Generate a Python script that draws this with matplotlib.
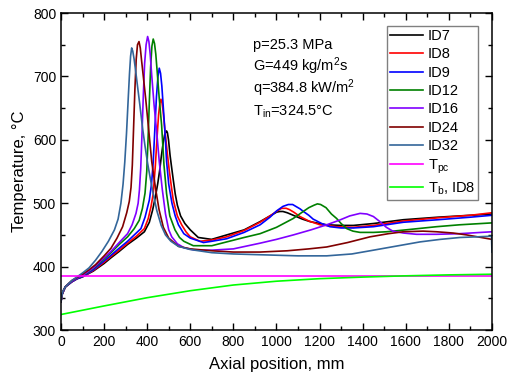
import matplotlib
matplotlib.use("Agg")
import matplotlib.pyplot as plt
from matplotlib.ticker import MultipleLocator

plt.rcParams["font.family"] = ["Liberation Sans", "DejaVu Sans"]
plt.rcParams["mathtext.fontset"] = "custom"
plt.rcParams["mathtext.rm"] = "Liberation Sans"
plt.rcParams["mathtext.it"] = "Liberation Sans:italic"

# wall temperature curves: axial position (mm) / temperature (C)
id7_x = [0, 5, 10, 20, 35, 50, 75, 100, 150, 200, 232, 270, 309, 350, 387, 410, 425, 438, 449, 458,
         466, 474, 481, 486, 490, 494, 499, 506, 514, 521, 530, 540, 555, 575, 600, 637, 699, 769, 850,
         924, 970, 1001, 1016, 1030, 1050, 1078, 1120, 1156, 1200, 1233, 1300, 1357, 1450, 1589, 1750,
         1900, 2000]
id7_t = [345, 356, 360, 368, 372, 376, 381, 384, 393, 405, 414, 424, 435, 445, 455, 470, 489, 510, 531, 552,
         575, 595, 608, 612, 614, 611, 600, 576, 555, 537, 515, 497, 480, 468, 458, 446, 443, 450, 458,
         471, 480, 486, 487, 487, 485, 481, 475, 471, 468, 466, 465, 465, 468, 474, 478,
         481, 483]

id8_x = [0, 5, 10, 20, 35, 50, 75, 100, 150, 200, 232, 270, 309, 350, 387, 405, 418, 428, 438, 446,
         453, 459, 464, 469, 474, 483, 493, 503, 512, 521, 540, 560, 580, 600, 645, 700, 769, 850, 924,
         970, 1000, 1024, 1045, 1060, 1080, 1109, 1150, 1202, 1280, 1357, 1450, 1589, 1750, 1900, 2000]
id8_t = [345, 356, 360, 368, 372, 376, 381, 384, 394, 407, 416, 426, 437, 448, 460, 476, 495, 515, 560, 605,
         640, 658, 664, 658, 645, 613, 580, 550, 527, 505, 480, 466, 455, 447, 440, 442, 447, 457, 470,
         480, 487, 492, 492, 490, 486, 479, 472, 466, 463, 462, 465, 472, 477, 481, 485]

id9_x = [0, 5, 10, 20, 35, 50, 75, 100, 150, 200, 232, 270, 309, 340, 371, 390, 410, 420, 428, 436,
         443, 450, 456, 462, 468, 475, 483, 490, 500, 515, 530, 545, 570, 600, 661, 700, 769, 850, 924,
         970, 1001, 1030, 1055, 1075, 1090, 1110, 1125, 1150, 1170, 1210, 1248, 1300, 1357, 1450, 1589,
         1750, 1900, 2000]
id9_t = [345, 356, 360, 368, 372, 376, 381, 384, 395, 409, 418, 429, 440, 450, 460, 478, 505, 530, 565, 620,
         668, 700, 713, 705, 685, 650, 610, 566, 530, 500, 480, 466, 452, 445, 438, 440, 444, 454, 466,
         478, 488, 495, 498, 498, 495, 491, 487, 481, 475, 468, 463, 461, 461, 463, 470,
         474, 478, 481]

id12_x = [0, 5, 10, 20, 35, 50, 75, 100, 150, 200, 232, 270, 309, 340, 363, 378, 390, 398, 404, 410,
          416, 422, 428, 434, 440, 447, 456, 467, 478, 490, 505, 529, 550, 570, 614, 700, 769, 850, 924,
          1000, 1078, 1120, 1150, 1175, 1190, 1205, 1230, 1255, 1279, 1300, 1326, 1355, 1388, 1450, 1511,
          1600, 1743, 1850, 2000]
id12_t = [345, 356, 361, 368, 373, 377, 382, 385, 397, 412, 422, 435, 447, 460, 473, 492, 516, 550, 600, 660,
          715, 748, 759, 752, 735, 705, 665, 623, 560, 515, 480, 458, 446, 440, 433, 433, 439, 446, 452,
          462, 476, 486, 493, 497, 499, 498, 493, 483, 476, 468, 460, 456, 454, 454, 455,
          458, 463, 466, 469]

id16_x = [0, 5, 10, 20, 35, 50, 75, 100, 150, 200, 232, 270, 309, 330, 348, 358, 364, 370, 376, 382,
          388, 395, 402, 408, 414, 421, 432, 444, 456, 470, 485, 500, 514, 540, 570, 622, 700, 800, 924,
          1000, 1078, 1160, 1233, 1290, 1340, 1388, 1420, 1450, 1480, 1510, 1540, 1589, 1650, 1743, 1850,
          2000]
id16_t = [345, 356, 361, 368, 373, 377, 382, 386, 398, 414, 424, 438, 452, 466, 484, 500, 521, 555, 610, 670,
          720, 750, 763, 755, 735, 702, 655, 613, 566, 522, 483, 458, 447, 436, 430, 426, 426, 428, 437,
          443, 450, 458, 466, 473, 480, 484, 483, 479, 471, 462, 456, 453, 451, 451, 452,
          455]

id24_x = [0, 5, 10, 20, 35, 50, 75, 100, 130, 160, 200, 232, 260, 286, 305, 317, 325, 331, 337, 343,
          349, 355, 362, 368, 374, 382, 393, 405, 421, 438, 455, 475, 500, 545, 600, 700, 800, 924, 1050,
          1150, 1233, 1330, 1434, 1520, 1589, 1680, 1743, 1820, 1883, 1950, 2000]
id24_t = [345, 356, 362, 368, 373, 378, 383, 388, 395, 403, 417, 429, 445, 463, 485, 503, 525, 560, 620, 680,
          727, 750, 755, 745, 725, 700, 665, 623, 566, 525, 490, 462, 445, 432, 428, 425, 423, 423, 425,
          428, 431, 438, 447, 452, 455, 456, 455, 453, 450, 446, 443]

id32_x = [0, 5, 10, 20, 35, 50, 75, 100, 130, 160, 190, 220, 248, 265, 278, 288, 296, 304, 312, 318,
          323, 328, 333, 339, 346, 355, 366, 378, 390, 402, 414, 428, 445, 465, 485, 510, 545, 600, 700,
          800, 900, 1000, 1100, 1233, 1350, 1434, 1550, 1666, 1760, 1852, 1930, 1998, 2000]
id32_t = [345, 356, 362, 368, 373, 378, 384, 390, 398, 410, 424, 440, 458, 475, 500, 530, 565, 610, 665, 705,
          732, 745, 740, 728, 710, 685, 655, 620, 590, 563, 540, 515, 488, 465, 450, 440, 432, 427, 422,
          420, 419, 418, 417, 417, 420, 425, 432, 439, 443, 446, 447, 448, 423]

# pseudo-critical temperature and bulk temperature of ID8
tpc_x = [0, 2000]
tpc_t = [385.5, 385.5]
tb_x = [0, 200, 400, 600, 800, 1000, 1200, 1400, 1600, 1800, 2000]
tb_t = [324.5, 338, 351, 362, 371, 377, 381, 383.5, 385.5, 387, 388]

labels = ["ID7", "ID8", "ID9", "ID12", "ID16", "ID24", "ID32", r"T$_{\rm pc}$", r"T$_{\rm b}$, ID8"]
colors = ["#000000", "#ff0000", "#0000ff", "#008000", "#8000ff", "#800000", "#33669a",
          "#ff00ff", "#00ff00"]
xs = [id7_x, id8_x, id9_x, id12_x, id16_x, id24_x, id32_x, tpc_x, tb_x]
ts = [id7_t, id8_t, id9_t, id12_t, id16_t, id24_t, id32_t, tpc_t, tb_t]

fig = plt.figure(figsize=(5.1, 3.86), dpi=100)
ax = fig.add_axes([0.1196, 0.145, 0.845, 0.8212])

for x, t, c, lab in zip(xs, ts, colors, labels):
    ax.plot(x, t, color=c, lw=1.2, label=lab, solid_joinstyle="round")

ax.set_xlim(0, 2000)
ax.set_ylim(300, 800)
ax.xaxis.set_major_locator(MultipleLocator(200))
ax.xaxis.set_minor_locator(MultipleLocator(100))
ax.yaxis.set_major_locator(MultipleLocator(100))
ax.yaxis.set_minor_locator(MultipleLocator(50))
ax.tick_params(which="both", direction="in", top=True, right=True, labelsize=10, width=1)
ax.tick_params(which="major", length=5)
ax.tick_params(which="minor", length=3)
for s in ax.spines.values():
    s.set_linewidth(1.1)

ax.set_xlabel("Axial position, mm", fontsize=12, labelpad=6)
ax.set_ylabel("Temperature, °C", fontsize=12, labelpad=4)

ax.text(0.445, 0.886, "p=25.3 MPa", transform=ax.transAxes, fontsize=10.5)
ax.text(0.445, 0.817, r"G=449 kg/m$^{\rm 2}$s", transform=ax.transAxes, fontsize=10.5)
ax.text(0.445, 0.748, r"q=384.8 kW/m$^{\rm 2}$", transform=ax.transAxes, fontsize=10.5)
ax.text(0.445, 0.675, r"T$_{\rm in}$=324.5°C", transform=ax.transAxes, fontsize=10.5)

leg = ax.legend(loc="upper right", bbox_to_anchor=(0.9675, 0.959), fontsize=10.5,
                handlelength=2.3, labelspacing=0.3, borderpad=0.2, handletextpad=0.3,
                borderaxespad=0, fancybox=False, framealpha=1)
leg.get_frame().set_edgecolor("#808080")
leg.get_frame().set_linewidth(1.0)

plt.savefig("out.png", dpi=100)
